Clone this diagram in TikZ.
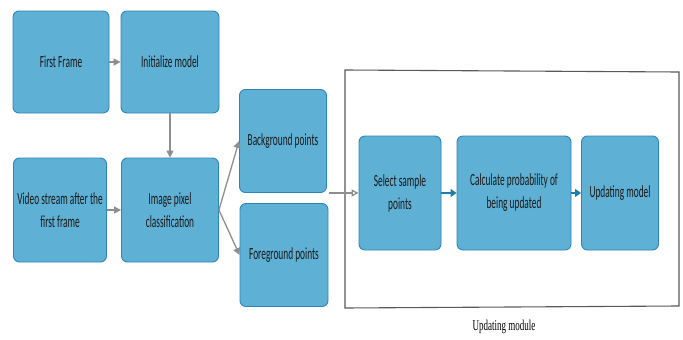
\documentclass[tikz,border=0pt]{standalone}
\usepackage{fontspec}
\setmainfont{Carlito}
\newfontfamily\boxfont[FakeStretch=0.55]{Carlito}
\newfontfamily\capfont[FakeStretch=0.6]{Liberation Serif}
\usetikzlibrary{arrows.meta,positioning}
\definecolor{boxfill}{HTML}{5FB0D5}
\definecolor{boxline}{HTML}{2A86B8}
\definecolor{arrgrey}{HTML}{8E8E8E}
\definecolor{arrblue}{HTML}{1B7DAA}

\tikzset{
  stage/.style={draw=boxline,fill=boxfill,line width=0.9pt,rounded corners=6pt,
    align=center,inner sep=2pt,font=\boxfont\fontsize{17}{23}\selectfont,text=black!90},
  flow/.style={draw=arrgrey,line width=1.3pt,-{Triangle[width=7pt,length=7pt]}},
  inner flow/.style={draw=arrblue,line width=1.3pt,-{Triangle[width=8pt,length=6pt]}}
}

\begin{document}
\begin{tikzpicture}[x=1pt,y=-1pt]
        \useasboundingbox (0,0) rectangle (683,340);
        \node[stage,minimum width=96pt,minimum height=102pt] (ff) at (61,62) {First Frame};
        \node[stage,minimum width=98pt,minimum height=102pt] (init) at (170,62) {Initialize model};
        \node[stage,minimum width=93pt,minimum height=104pt] (vs) at (60,210) {Video stream after the\\first frame};
        \node[stage,minimum width=97pt,minimum height=104pt] (ipc) at (170,210) {Image pixel\\classification};
        \node[stage,minimum width=87pt,minimum height=103pt] (bg) at (283,141) {Background points};
        \node[stage,minimum width=88pt,minimum height=103pt] (fg) at (284,255) {Foreground points};
        % updating module
        \draw[black!65,line width=1.1pt] (345,70)--(679,72)--(679,306)--(345,308)--cycle;
        \node[stage,minimum width=82pt,minimum height=114pt] (sel) at (400,193) {Select sample\\points};
        \node[stage,minimum width=114pt,minimum height=114pt] (calc) at (514,193) {Calculate probability of\\being updated};
        \node[stage,minimum width=77pt,minimum height=114pt] (upd) at (620,193) {Updating model};
        \node[font=\capfont\fontsize{15}{17}\selectfont] (cap) at (504,327) {Updating module};
        \coordinate (split) at (329,193);
        \draw[flow] (ff) -- (init);
        \draw[flow] (init) -- (ipc);
        \draw[flow] (vs) -- (ipc);
        \draw[flow] (ipc.east) -- (bg.west);
        \draw[flow] (ipc.east) -- (fg.west);
        \draw[arrgrey,line width=1.3pt,-{Triangle[open,width=7pt,length=7pt]}] (split) -- (sel.west);
        \draw[inner flow] (sel) -- (calc);
        \draw[inner flow] (calc) -- (upd);
      \end{tikzpicture}
\end{document}
